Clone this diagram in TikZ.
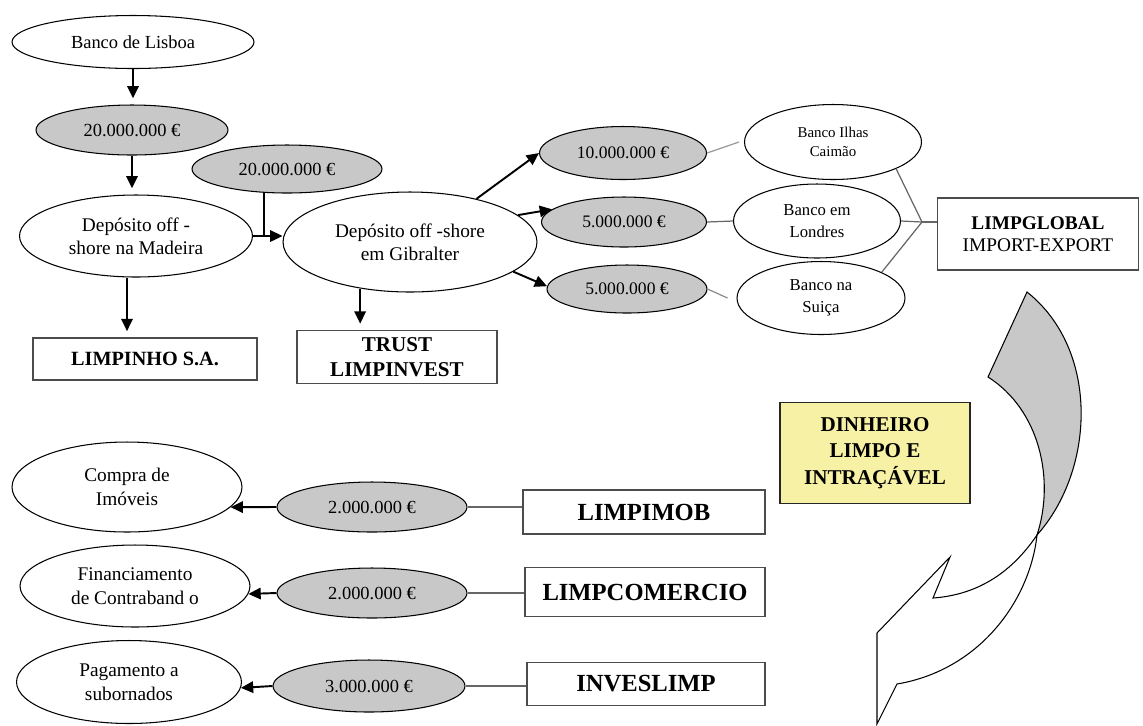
\documentclass[tikz,border=0pt]{standalone}
\usepackage{fontspec}
\setmainfont{Liberation Serif}
\usepackage{tikz}
\usetikzlibrary{arrows.meta}
\usetikzlibrary{shapes.geometric}

\definecolor{amtgray}{RGB}{200,200,200}
\definecolor{cleanyellow}{RGB}{246,241,164}

\begin{document}
\begin{tikzpicture}[x=0.02cm, y=-0.02cm,
    amount/.style={ellipse, draw, line width=0.6pt, fill=amtgray, inner sep=0pt,
      font=\fontsize{10.5}{12}\selectfont},
    place/.style={ellipse, draw, line width=0.6pt, fill=white, inner sep=0pt,
      align=center, font=\fontsize{11}{13}\selectfont},
    firm/.style={draw=black!70, line width=0.8pt, fill=white, inner sep=0pt,
      align=center, font=\bfseries\fontsize{12}{14.5}\selectfont}]

  \useasboundingbox (0,0) rectangle (1143,725);

      \begin{scope}[every node/.style={place}]
        \node[minimum width=4.84cm, minimum height=1.06cm, font=\fontsize{10.5}{12}\selectfont]
          (lisboa) at (133,42) {Banco de Lisboa};
        \node[minimum width=4.66cm, minimum height=1.64cm] (madeira) at (136,236)
          {Depósito off -\\shore na Madeira};
        \node[minimum width=5.08cm, minimum height=2.0cm] (gibraltar) at (410,242)
          {Depósito off -shore\\em Gibralter};
        \node[minimum width=3.54cm, minimum height=1.5cm, font=\fontsize{8.5}{11}\selectfont]
          (caimao) at (833,142) {Banco Ilhas\\Caimão};
        \node[minimum width=3.34cm, minimum height=1.48cm, font=\fontsize{9.5}{12.3}\selectfont]
          (londres) at (817,221) {Banco em\\Londres};
        \node[minimum width=3.36cm, minimum height=1.46cm, font=\fontsize{9.5}{12.3}\selectfont]
          (suica) at (821,298) {Banco na\\Suiça};
        \node[minimum width=4.6cm, minimum height=1.8cm, font=\fontsize{11}{14}\selectfont]
          (imoveis) at (127,487) {Compra de\\Imóveis};
        \node[minimum width=4.6cm, minimum height=1.64cm, font=\fontsize{11}{14}\selectfont]
          (contrabando) at (135,586) {Financiamento\\de Contraband o};
        \node[minimum width=4.5cm, minimum height=1.66cm, font=\fontsize{11}{13.5}\selectfont]
          (subornos) at (129,682) {Pagamento a\\subornados};
      \end{scope}

      \begin{scope}[every node/.style={amount}]
        \node[minimum width=3.84cm, minimum height=1.0cm] (amtA) at (132,130) {20.000.000 €};
        \node[minimum width=3.8cm, minimum height=0.96cm] (amtB) at (287,169) {20.000.000 €};
        \node[minimum width=3.34cm, minimum height=1.06cm, font=\fontsize{10}{12}\selectfont]
          (amtC) at (623,153) {10.000.000 €};
        \node[minimum width=3.3cm, minimum height=1.0cm, font=\fontsize{10}{12}\selectfont]
          (amtD) at (624,222) {5.000.000 €};
        \node[minimum width=3.2cm, minimum height=0.96cm, font=\fontsize{10}{12}\selectfont]
          (amtE) at (627,289) {5.000.000 €};
        \node[minimum width=3.8cm, minimum height=1.0cm] (amtF) at (372,507) {2.000.000 €};
        \node[minimum width=3.8cm, minimum height=1.0cm] (amtG) at (372,593) {2.000.000 €};
        \node[minimum width=3.84cm, minimum height=1.04cm] (amtH) at (369,686) {3.000.000 €};
      \end{scope}

      \begin{scope}[every node/.style={firm}]
        \node[minimum width=4.48cm, minimum height=0.84cm, font=\bfseries\fontsize{11.5}{14}\selectfont]
          (limpinho) at (145,359) {LIMPINHO S.A.};
        \node[minimum width=4.0cm, minimum height=1.06cm] (trust) at (397,357) {TRUST\\LIMPINVEST};
        \node[minimum width=4.02cm, minimum height=1.44cm, font=\fontsize{11}{12.5}\selectfont]
          (limpglobal) at (1038,234) {\textbf{LIMPGLOBAL}\\IMPORT-EXPORT};
        \node[minimum width=3.8cm, minimum height=2.02cm, fill=cleanyellow, draw=black!85,
          font=\bfseries\fontsize{12}{15}\selectfont] (dinheiro) at (875,453) {DINHEIRO\\LIMPO E\\INTRAÇÁVEL};
        \node[minimum width=4.84cm, minimum height=0.88cm, font=\bfseries\fontsize{14}{16}\selectfont]
          (limpimob) at (644,512) {LIMPIMOB};
        \node[minimum width=4.8cm, minimum height=0.98cm, font=\bfseries\fontsize{14}{16}\selectfont]
          (limpcomercio) at (645,592) {LIMPCOMERCIO};
        \node[minimum width=4.76cm, minimum height=0.86cm, font=\bfseries\fontsize{14}{16}\selectfont]
          (inveslimp) at (646,684) {INVESLIMP};
      \end{scope}

      \coordinate (jct) at (922,222);

      \begin{scope}[>={Triangle[length=7pt,width=6.5pt]},
          every edge/.style={draw=black, line width=1.1pt}]
        \path [->] (lisboa.south) edge[shorten >=3.5pt] (lisboa.south |- amtA.north);
        \path [->] (amtA.south) edge[shorten >=3.5pt] (amtA.south |- madeira.north);
        \path [->] ([xshift=-0.18cm]madeira.south) edge[shorten >=3.5pt]
          ([xshift=-0.18cm]madeira.south |- limpinho.north);
        \path [->] (madeira.east) edge (madeira.east -| gibraltar.west);
        \path [->] (gibraltar.223) edge[shorten >=3.5pt] (gibraltar.223 |- trust.north);
        \path [->] (gibraltar.33) edge (amtC.west);
        \path [->] (gibraltar.14) edge (amtD.170);
        \path [->] (gibraltar.-16) edge (amtE.178);
        \path [->] (amtF.west) edge (imoveis.-11);
        \path [->] (amtG.west) edge (contrabando.-4);
        \path [->] (amtH.west) edge (subornos.-3);
      \end{scope}

      \begin{scope}[every edge/.style={draw=black!60, line width=0.7pt}]
        \path (amtB.226) edge[draw=black, line width=0.8pt] (amtB.226 |- madeira.east);
        \path (amtC.east) edge[draw=black!40] ([xshift=-0.1cm]caimao.west);
        \path (amtD.east) edge (londres.west);
        \path (amtE.east) edge[draw=black!45] ([xshift=-0.18cm]suica.west);
        \path (caimao.-23) edge (jct);
        \path (londres.east) edge (jct);
        \path (suica.23) edge (jct);
        \path (jct) edge (jct -| limpglobal.west);
        \path (amtF.east) edge (amtF.east -| limpimob.west);
        \path (amtG.east) edge (amtG.east -| limpcomercio.west);
        \path (amtH.east) edge (amtH.east -| inveslimp.west);
      \end{scope}

      % twisted return arrow
      \filldraw[fill=amtgray, line width=0.6pt] (1027,292) -- (988,377)
        .. controls (1040,410) and (1055,480) .. (1037,535)
        .. controls (1095,470) and (1100,350) .. cycle;
      \filldraw[fill=white, line width=0.6pt] (1037,535)
        .. controls (1010,575) and (975,595) .. (933,598)
        -- (950,557) -- (877,633) -- (877,724) -- (897,684)
        .. controls (980,670) and (1030,600) .. cycle;

    \end{tikzpicture}
\end{document}
